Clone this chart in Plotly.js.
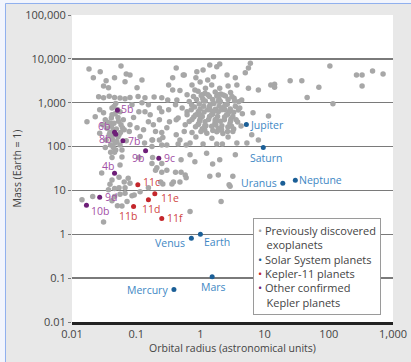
<!DOCTYPE html>
<html><head><meta charset="utf-8">
<script src="https://cdn.plot.ly/plotly-3.0.1.min.js"></script>
<style>html,body{margin:0;padding:0;background:#fff}#chart{width:411px;height:362px}</style>
</head><body><div id="chart"></div>
<script>
// Previously discovered exoplanets: orbital radius (AU) and mass (Earth = 1)
const greyRadius = [
 0.0184,0.0275,0.058,0.0215,0.034,0.046,0.070,0.031,0.037,0.067,0.123,0.103,0.080,0.32,0.37,0.88,0.56,
 0.026,0.031,0.038,0.046,0.056,0.067,0.080,0.107,0.137,0.19,0.25,0.31,
 0.0171,0.027,0.031,0.023,0.033,0.042,0.042,0.040,0.044,0.038,
 0.086,0.11,0.091,0.080,0.103,0.13,0.155,0.23,0.25,0.32,0.20,0.25,0.30,0.176,0.23,0.155,0.123,
 0.048,0.056,0.052,0.058,0.043,0.050,0.040,0.044,0.056,0.042,0.065,0.035,0.030,0.027,0.054,0.063,0.041,0.034,0.070,0.078,0.048,0.040,0.060,0.033,
 0.045,0.051,0.047,0.053,0.045,0.049,0.044,0.052,0.039,0.061,0.057,0.047,0.036,0.041,
 0.046,0.060,0.042,0.056,0.029,0.042,0.054,0.065,0.080,0.054,0.067,0.046,0.072,0.060,0.115,0.093,0.155,
 0.20,0.25,0.25,0.24,0.176,0.11,0.135,0.176,0.25,0.115,0.18,0.26,0.30,0.48,0.69,
 0.21,0.30,0.58,0.50,0.82,1.25,1.55,2.0,3.5,0.69,0.50,0.48,0.60,1.4,3.2,2.8,2.1,0.69,0.41,0.38,0.45,0.60,1.1,1.8,2.2,3.7,5.3,1.9,
 0.0143,0.021,0.031,0.039,0.046,0.042,0.051,0.056,0.086,0.26,0.36,0.037,0.067,0.075,
 1.4,1.8,2.0,5.6,5.0,1.1,0.42,0.54,0.74,0.99,1.6,2.6,3.5,3.7,0.37,0.48,0.62,0.82,1.2,1.5,2.0,2.7,1.3,0.85,
 0.92,1.18,1.70,2.08,2.95,
 0.78,1.09,1.38,1.95,2.45,3.35,
 0.67,0.96,1.19,1.62,2.05,2.62,3.95,
 0.81,0.99,1.39,1.71,2.32,2.92,
 0.62,0.90,1.14,1.55,1.90,2.68,3.30,4.5,
 0.79,0.99,1.39,1.76,2.38,3.0,
 0.67,0.94,1.18,1.68,2.05,2.88,3.8,
 0.84,1.07,1.50,1.90,2.68,3.3,
 1.02,1.26,1.80,2.24,3.2,
 0.85,1.51,2.7,
 1.03,1.31,1.80,2.28,3.1,
 0.87,1.12,1.55,1.90,2.7,3.4,
 0.73,1.13,1.42,1.96,2.44,3.5,
 0.72,0.93,1.30,1.60,2.15,2.82,3.9,
 0.84,1.07,1.49,1.85,2.55,3.2,
 0.74,0.97,1.34,1.71,2.36,2.95,
 0.92,1.22,1.74,2.16,3.05,
 1.17,1.56,2.14,2.65,
 1.06,1.9,1.41,2.4,0.99,1.7,3.6,1.17,2.0,4.3,4.1,4.4,0.43,0.52,0.45,0.58,0.42,0.62,0.56,0.74,0.42,0.33,
 5.6,6.0,8.0,11.5,6.6,6.3,8.0,12.5,14.3,14.3,25,38,46,70,104,116,270,330,330,480,700,
 2.9,0.41,0.23,0.185,0.137,0.165,0.18
];
const greyMass = [
 5900,5100,6900,3700,3150,3700,4500,2400,2200,3000,3300,2200,4300,2550,3700,5100,4300,
 1370,1290,1400,1310,1280,1230,1320,1380,1290,1350,1300,1160,
 370,687,590,480,407,760,529,340,241,185,
 893,620,460,313,270,241,370,760,620,687,220,210,270,142,142,893,1000,
 960,620,460,313,142,130,109,95,109,160,241,260,313,200,185,407,290,142,135,220,84,74,84,95,
 820,700,560,380,340,250,200,165,210,270,210,120,360,450,
 74,58,56,38,25,17.4,20,15.5,14.5,11.5,8.6,7.3,5.6,4.4,9.3,7.9,11.5,
 29,26,41,15.5,41,56,120,100,109,170,142,160,109,142,120,
 33,29,22.6,50,45,70,40,50,65,65,26,15.5,19.5,21,21,13.4,5.6,3.3,26,15.5,115,109,115,115,115,120,120,22.6,
 6.1,7.3,1.9,13.8,11,5.8,4.5,8.2,7.6,14,14,10.3,11.5,19,
 7270,6600,7600,6200,4800,5600,6200,4300,2550,2950,3900,4300,3700,2550,1960,1900,1510,1960,2150,2550,2150,2400,3300,3700,
 1820,1650,1760,1580,1700,
 1380,1230,1390,1210,1420,1260,
 1060,940,1090,960,1060,925,1050,
 800,715,820,710,795,720,
 620,545,615,550,625,550,610,560,
 475,425,485,420,470,430,
 372,330,368,335,378,332,362,
 283,255,290,258,280,252,
 222,200,218,198,220,
 165,155,165,
 1460,1520,1430,1490,1380,
 1190,1090,1180,1080,1190,1090,
 900,835,910,830,900,830,
 690,630,695,630,690,630,680,
 525,485,535,485,525,485,
 412,385,412,378,410,382,
 318,298,310,300,290,
 240,232,242,222,
 1510,1510,687,687,530,407,407,300,240,295,760,1160,1160,760,450,313,407,530,220,210,185,370,
 2150,7900,1960,500,590,185,142,2550,2650,2250,3150,3150,1310,2250,6900,950,4300,4300,2400,5300,4500,
 12.5,893,407,313,620,530,56
];

// Solar System planets
const solarNames  = ["Mercury","Venus","Earth","Mars","Jupiter","Saturn","Uranus","Neptune"];
const solarRadius = [0.387,0.723,1.0,1.524,5.20,9.54,19.2,30.1];
const solarMass   = [0.055,0.815,1.0,0.107,318,95.2,14.5,17.1];

// Kepler-11 planets
const k11Names  = ["11b","11c","11d","11e","11f"];
const k11Radius = [0.091,0.106,0.155,0.195,0.25];
const k11Mass   = [4.3,13.5,6.1,8.4,2.3];

// Other confirmed Kepler planets
const kepNames  = ["4b","5b","6b","7b","8b","9b","9c","9d","10b"];
const kepRadius = [0.046,0.051,0.046,0.062,0.048,0.140,0.225,0.027,0.0168];
const kepMass   = [24.5,672,212,136,191,80,54,7.0,4.6];

const xTickVals = [0.01,0.1,1,10,100,1000];
const xTickText = ["0.01","0.1","1","10","100","1,000"];
const yTickVals = [0.01,0.1,1,10,100,1000,10000,100000];
const yTickText = ["0.01","0.1","1","10","100","1,000","10,000","100,000"];

// label placement (anchor, xshift, yshift) — styling only
const labelPos = {
  Mercury:['right',-4,0], Venus:['right',-4,-5], Earth:['left',2,-8], Mars:['center',1,-10],
  Jupiter:['left',2,0], Saturn:['center',3,-10], Uranus:['right',-4,0], Neptune:['left',2,0],
  "11b":['center',-6,-9], "11c":['left',3,3], "11d":['center',3,-9], "11e":['left',4,-4], "11f":['left',3,0],
  "4b":['right',1,7], "5b":['left',2,1], "6b":['right',-3,6], "7b":['left',3,0], "8b":['right',-3,-5],
  "9b":['right',0,-7], "9c":['left',3,0], "9d":['left',3,0], "10b":['left',3,-6]
};

const FONT = '"Open Sans", "Noto Sans", sans-serif';
const greyCol='#a7a7a7', solarDot='#1b5f97', solarTxt='#3e87c4', k11Dot='#c4262b', k11Txt='#d0453f', kepDot='#6e1f78', kepTxt='#a24fa6';

const traces = [
  {type:'scatter', mode:'markers', x:greyRadius, y:greyMass, name:'Previously discovered exoplanets',
   marker:{size:5.5, color:greyCol}, hoverinfo:'skip', showlegend:false},
  {type:'scatter', mode:'markers', x:solarRadius, y:solarMass, name:'Solar System planets',
   marker:{size:5, color:solarDot}, hoverinfo:'skip', showlegend:false},
  {type:'scatter', mode:'markers', x:k11Radius, y:k11Mass, name:'Kepler-11 planets',
   marker:{size:5, color:k11Dot}, hoverinfo:'skip', showlegend:false},
  {type:'scatter', mode:'markers', x:kepRadius, y:kepMass, name:'Other confirmed Kepler planets',
   marker:{size:5, color:kepDot}, hoverinfo:'skip', showlegend:false}
];

const annotations = [];
function addLabels(names, xs, ys, color){
  names.forEach((n,i)=>{
    const p = labelPos[n];
    annotations.push({x:Math.log10(xs[i]), y:Math.log10(ys[i]), xref:'x', yref:'y', text:n,
      showarrow:false, xanchor:p[0], yanchor:'middle', xshift:p[1], yshift:p[2],
      font:{family:FONT, size:10.5, color:color}});
  });
}
addLabels(solarNames, solarRadius, solarMass, solarTxt);
addLabels(k11Names, k11Radius, k11Mass, k11Txt);
addLabels(kepNames, kepRadius, kepMass, kepTxt);

const nb = '\u00a0\u00a0\u00a0';
annotations.push({
  xref:'paper', yref:'paper', x:0.5639, y:0.3388, xanchor:'left', yanchor:'top', showarrow:false, align:'left',
  bgcolor:'#ffffff', bordercolor:'#9a9a9a', borderwidth:1, borderpad:4,
  font:{family:FONT, size:11, color:'#444'},
  text:"<span style='color:"+greyCol+"'>•</span> Previously discovered<br>"+nb+"exoplanets<br>"+
       "<span style='color:"+solarDot+"'>•</span> Solar System planets<br>"+
       "<span style='color:"+k11Dot+"'>•</span> Kepler-11 planets<br>"+
       "<span style='color:"+kepDot+"'>•</span> Other confirmed<br>"+nb+"Kepler planets"
});

const layout = {
  width:411, height:362,
  margin:{l:72, r:18, t:15, b:40},
  paper_bgcolor:'#e8e8e8', plot_bgcolor:'#ffffff',
  font:{family:FONT, size:11, color:'#444'},
  showlegend:false,
  xaxis:{type:'log', range:[-2,3], tickvals:xTickVals, ticktext:xTickText, showgrid:false,
         showline:true, linecolor:'#222', linewidth:3, ticks:'', tickfont:{size:11, color:'#444'},
         title:{text:'Orbital radius (astronomical units)', font:{size:10.5, color:'#444'}, standoff:4},
         zeroline:false, fixedrange:true},
  yaxis:{type:'log', range:[-2,5], tickvals:yTickVals, ticktext:yTickText, showgrid:true,
         gridcolor:'#7a7a7a', gridwidth:1.3, showline:false, ticks:'outside', ticklen:3, tickcolor:'#7a7a7a',
         tickfont:{size:11, color:'#444'},
         title:{text:'Mass (Earth = 1)', font:{size:10.5, color:'#444'}, standoff:1},
         zeroline:false, fixedrange:true},
  annotations:annotations,
  shapes:[
    {type:'rect', xref:'paper', yref:'paper', x0:-0.3, x1:-0.2087, y0:-0.2, y1:1.1, fillcolor:'#f2f5fd', line:{width:0}},
    {type:'rect', xref:'paper', yref:'paper', x0:-0.3, x1:1.2, y0:1.0391, y1:1.1, fillcolor:'#f2f5fd', line:{width:0}},
    {type:'line', xref:'paper', yref:'paper', x0:-0.2072, x1:-0.2072, y0:-0.2, y1:1.0375, line:{color:'#8fb0ee', width:1}},
    {type:'line', xref:'paper', yref:'paper', x0:-0.2072, x1:1.2, y0:1.0375, y1:1.0375, line:{color:'#8fb0ee', width:1}}
  ]
};

Plotly.newPlot('chart', traces, layout, {staticPlot:true, displayModeBar:false});
</script></body></html>
